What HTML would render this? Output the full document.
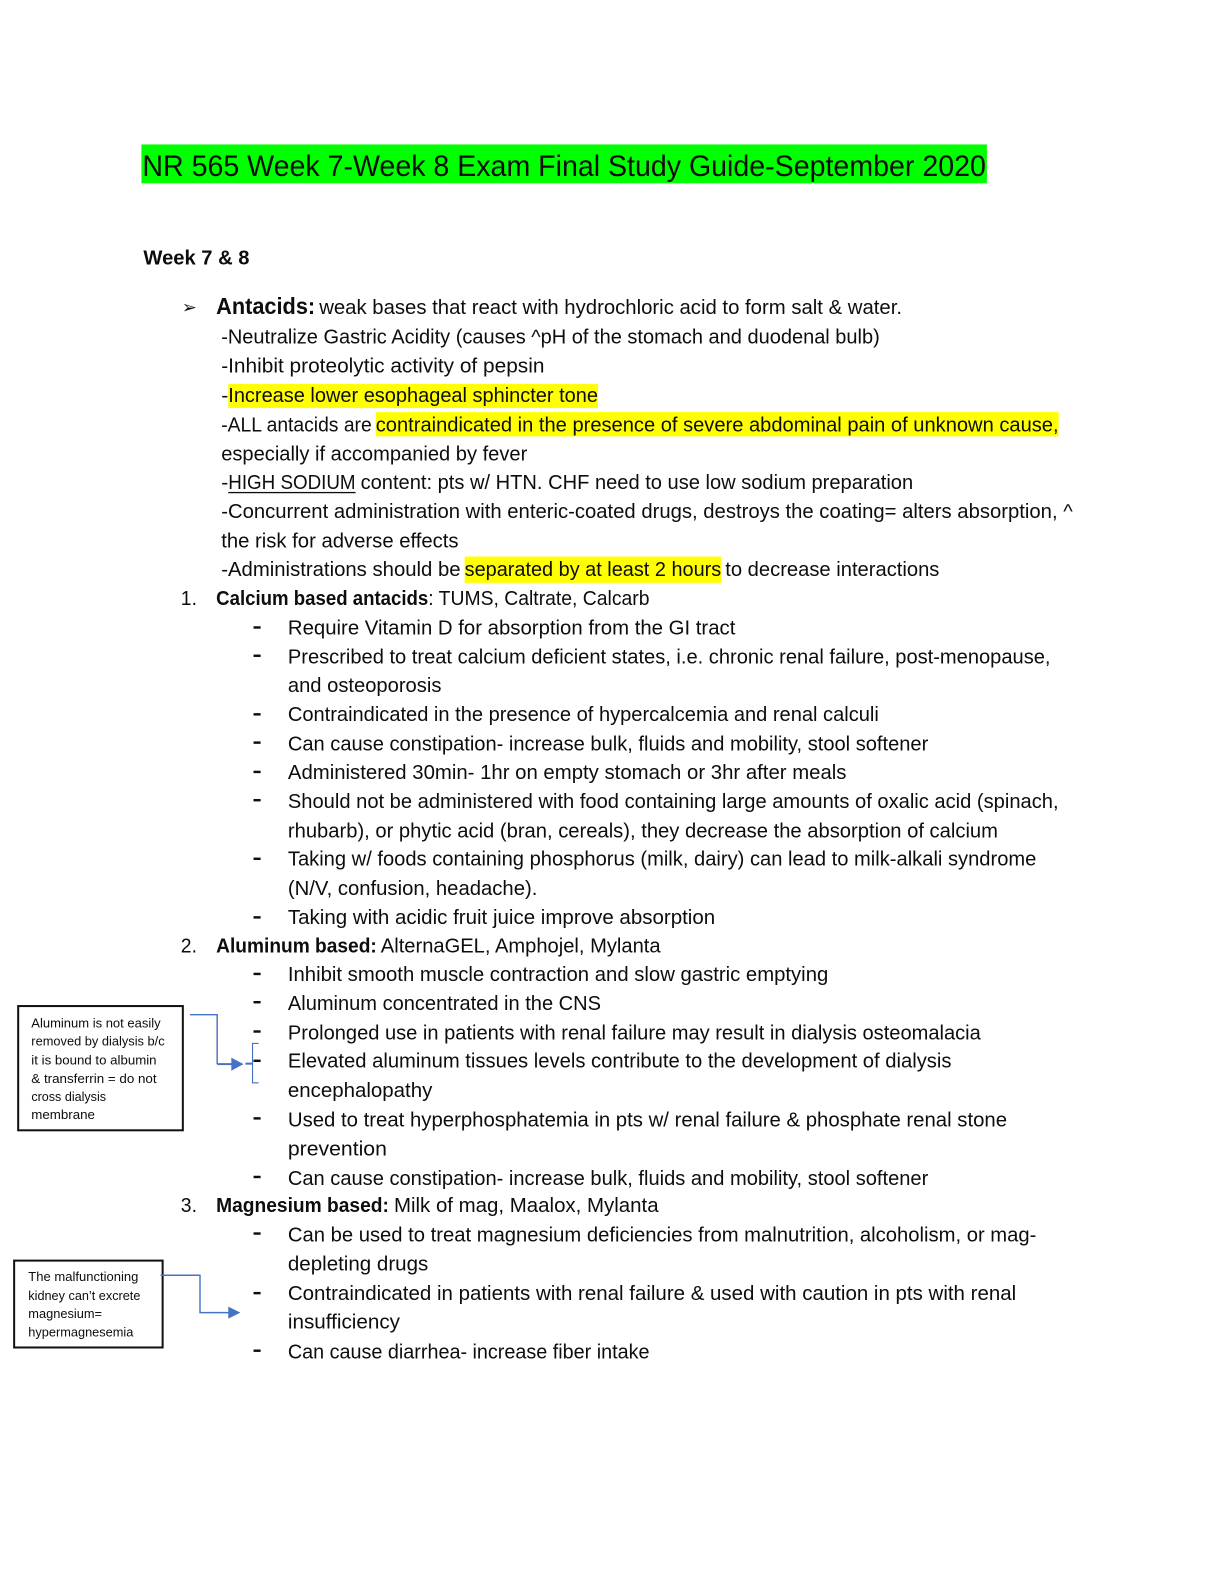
<!DOCTYPE html>
<html><head><meta charset="utf-8"><style>
html,body{margin:0;padding:0;background:#fff}
svg{display:block}
text{font-family:"Liberation Sans",sans-serif;fill:#0d0d0d;font-size:20.5px;white-space:pre}
.b{font-weight:bold}
.s{font-size:12.5px}
</style></head><body>
<svg width="1224" height="1584" viewBox="0 0 1211.76 1568.16" xmlns="http://www.w3.org/2000/svg">
<rect width="1224" height="1584" fill="#fff"/>
<rect x="140" y="143" width="837" height="38.5" fill="#00ff00"/>
<rect x="226" y="380" width="366" height="24" fill="#ffff00"/>
<rect x="372" y="408" width="676" height="24" fill="#ffff00"/>
<rect x="460" y="551" width="254" height="26" fill="#ffff00"/>
<g>
<text x="141" y="174" style="font-size:29px" textLength="835" lengthAdjust="spacingAndGlyphs">NR 565 Week 7-Week 8 Exam Final Study Guide-September 2020</text>
<text x="142" y="262" class="b" textLength="105" lengthAdjust="spacingAndGlyphs">Week 7 &amp; 8</text>
<text x="180" y="310" style="font-size:17px;font-family:'DejaVu Sans',sans-serif" textLength="15" lengthAdjust="spacingAndGlyphs">➢</text>
<text x="214" y="311" class="b" style="font-size:23px" textLength="98" lengthAdjust="spacingAndGlyphs">Antacids:</text>
<text x="316" y="311" textLength="577" lengthAdjust="spacingAndGlyphs">weak bases that react with hydrochloric acid to form salt &amp; water.</text>
<text x="219" y="340" textLength="652" lengthAdjust="spacingAndGlyphs">-Neutralize Gastric Acidity (causes ^pH of the stomach and duodenal bulb)</text>
<text x="219" y="369" textLength="320" lengthAdjust="spacingAndGlyphs">-Inhibit proteolytic activity of pepsin</text>
<text x="219" y="398" textLength="7" lengthAdjust="spacingAndGlyphs">-</text>
<text x="226" y="398" textLength="366" lengthAdjust="spacingAndGlyphs">Increase lower esophageal sphincter tone</text>
<text x="219" y="427" textLength="149" lengthAdjust="spacingAndGlyphs">-ALL antacids are</text>
<text x="372" y="427" textLength="676" lengthAdjust="spacingAndGlyphs">contraindicated in the presence of severe abdominal pain of unknown cause,</text>
<text x="219" y="456" textLength="303" lengthAdjust="spacingAndGlyphs">especially if accompanied by fever</text>
<text x="219" y="484" textLength="7" lengthAdjust="spacingAndGlyphs">-</text>
<text x="226" y="484" textLength="126" lengthAdjust="spacingAndGlyphs">HIGH SODIUM</text>
<rect x="226" y="487" width="126" height="1.3" fill="#0d0d0d"/>
<text x="357" y="484" textLength="547" lengthAdjust="spacingAndGlyphs">content: pts w/ HTN. CHF need to use low sodium preparation</text>
<text x="219" y="513" textLength="843" lengthAdjust="spacingAndGlyphs">-Concurrent administration with enteric-coated drugs, destroys the coating= alters absorption, ^</text>
<text x="219" y="542" textLength="235" lengthAdjust="spacingAndGlyphs">the risk for adverse effects</text>
<text x="219" y="570" textLength="237" lengthAdjust="spacingAndGlyphs">-Administrations should be</text>
<text x="460" y="570" textLength="254" lengthAdjust="spacingAndGlyphs">separated by at least 2 hours</text>
<text x="718" y="570" textLength="212" lengthAdjust="spacingAndGlyphs">to decrease interactions</text>

<text x="179" y="599" textLength="16" lengthAdjust="spacingAndGlyphs">1.</text>
<text x="214" y="599" class="b" textLength="210" lengthAdjust="spacingAndGlyphs">Calcium based antacids</text>
<text x="424" y="599" textLength="219" lengthAdjust="spacingAndGlyphs">: TUMS, Caltrate, Calcarb</text>
<text x="285" y="628" textLength="443" lengthAdjust="spacingAndGlyphs">Require Vitamin D for absorption from the GI tract</text>
<text x="285" y="657" textLength="755" lengthAdjust="spacingAndGlyphs">Prescribed to treat calcium deficient states, i.e. chronic renal failure, post-menopause,</text>
<text x="285" y="685" textLength="152" lengthAdjust="spacingAndGlyphs">and osteoporosis</text>
<text x="285" y="714" textLength="585" lengthAdjust="spacingAndGlyphs">Contraindicated in the presence of hypercalcemia and renal calculi</text>
<text x="285" y="743" textLength="634" lengthAdjust="spacingAndGlyphs">Can cause constipation- increase bulk, fluids and mobility, stool softener</text>
<text x="285" y="771" textLength="553" lengthAdjust="spacingAndGlyphs">Administered 30min- 1hr on empty stomach or 3hr after meals</text>
<text x="285" y="800" textLength="763" lengthAdjust="spacingAndGlyphs">Should not be administered with food containing large amounts of oxalic acid (spinach,</text>
<text x="285" y="829" textLength="703" lengthAdjust="spacingAndGlyphs">rhubarb), or phytic acid (bran, cereals), they decrease the absorption of calcium</text>
<text x="285" y="857" textLength="741" lengthAdjust="spacingAndGlyphs">Taking w/ foods containing phosphorus (milk, dairy) can lead to milk-alkali syndrome</text>
<text x="285" y="886" textLength="247" lengthAdjust="spacingAndGlyphs">(N/V, confusion, headache).</text>
<text x="285" y="915" textLength="423" lengthAdjust="spacingAndGlyphs">Taking with acidic fruit juice improve absorption</text>

<text x="179" y="943" textLength="16" lengthAdjust="spacingAndGlyphs">2.</text>
<text x="214" y="943" class="b" textLength="159" lengthAdjust="spacingAndGlyphs">Aluminum based:</text>
<text x="377" y="943" textLength="277" lengthAdjust="spacingAndGlyphs">AlternaGEL, Amphojel, Mylanta</text>
<text x="285" y="971" textLength="535" lengthAdjust="spacingAndGlyphs">Inhibit smooth muscle contraction and slow gastric emptying</text>
<text x="285" y="1000" textLength="310" lengthAdjust="spacingAndGlyphs">Aluminum concentrated in the CNS</text>
<text x="285" y="1029" textLength="686" lengthAdjust="spacingAndGlyphs">Prolonged use in patients with renal failure may result in dialysis osteomalacia</text>
<text x="285" y="1057" textLength="657" lengthAdjust="spacingAndGlyphs">Elevated aluminum tissues levels contribute to the development of dialysis</text>
<text x="285" y="1086" textLength="143" lengthAdjust="spacingAndGlyphs">encephalopathy</text>
<text x="285" y="1115" textLength="712" lengthAdjust="spacingAndGlyphs">Used to treat hyperphosphatemia in pts w/ renal failure &amp; phosphate renal stone</text>
<text x="285" y="1144" textLength="98" lengthAdjust="spacingAndGlyphs">prevention</text>
<text x="285" y="1173" textLength="634" lengthAdjust="spacingAndGlyphs">Can cause constipation- increase bulk, fluids and mobility, stool softener</text>

<text x="179" y="1200" textLength="16" lengthAdjust="spacingAndGlyphs">3.</text>
<text x="214" y="1200" class="b" textLength="171" lengthAdjust="spacingAndGlyphs">Magnesium based:</text>
<text x="390" y="1200" textLength="262" lengthAdjust="spacingAndGlyphs">Milk of mag, Maalox, Mylanta</text>
<text x="285" y="1229" textLength="741" lengthAdjust="spacingAndGlyphs">Can be used to treat magnesium deficiencies from malnutrition, alcoholism, or mag-</text>
<text x="285" y="1258" textLength="139" lengthAdjust="spacingAndGlyphs">depleting drugs</text>
<text x="285" y="1287" textLength="721" lengthAdjust="spacingAndGlyphs">Contraindicated in patients with renal failure &amp; used with caution in pts with renal</text>
<text x="285" y="1315" textLength="111" lengthAdjust="spacingAndGlyphs">insufficiency</text>
<text x="285" y="1345" textLength="358" lengthAdjust="spacingAndGlyphs">Can cause diarrhea- increase fiber intake</text>

<text x="31" y="1017" class="s" textLength="128" lengthAdjust="spacingAndGlyphs">Aluminum is not easily</text>
<text x="31" y="1035" class="s" textLength="132" lengthAdjust="spacingAndGlyphs">removed by dialysis b/c</text>
<text x="31" y="1054" class="s" textLength="124" lengthAdjust="spacingAndGlyphs">it is bound to albumin</text>
<text x="31" y="1072" class="s" textLength="124" lengthAdjust="spacingAndGlyphs">&amp; transferrin = do not</text>
<text x="31" y="1090" class="s" textLength="74" lengthAdjust="spacingAndGlyphs">cross dialysis</text>
<text x="31" y="1108" class="s" textLength="63" lengthAdjust="spacingAndGlyphs">membrane</text>
<text x="28" y="1268" class="s" textLength="109" lengthAdjust="spacingAndGlyphs">The malfunctioning</text>
<text x="28" y="1287" class="s" textLength="111" lengthAdjust="spacingAndGlyphs">kidney can’t excrete</text>
<text x="28" y="1305" class="s" textLength="73" lengthAdjust="spacingAndGlyphs">magnesium=</text>
<text x="28" y="1323" class="s" textLength="104" lengthAdjust="spacingAndGlyphs">hypermagnesemia</text>
</g>

<g fill="#0d0d0d">
<rect x="251" y="620" width="7" height="2.4"/>
<rect x="251" y="648" width="7" height="2.4"/>
<rect x="251" y="706" width="7" height="2.4"/>
<rect x="251" y="734" width="7" height="2.4"/>
<rect x="251" y="763" width="7" height="2.4"/>
<rect x="251" y="791" width="7" height="2.4"/>
<rect x="251" y="849" width="7" height="2.4"/>
<rect x="251" y="907" width="7" height="2.4"/>
<rect x="251" y="963" width="7" height="2.4"/>
<rect x="251" y="991" width="7" height="2.4"/>
<rect x="251" y="1020" width="7" height="2.4"/>
<rect x="251" y="1049" width="7" height="2.4"/>
<rect x="251" y="1106" width="7" height="2.4"/>
<rect x="251" y="1164" width="7" height="2.4"/>
<rect x="251" y="1220" width="7" height="2.4"/>
<rect x="251" y="1279" width="7" height="2.4"/>
<rect x="251" y="1336" width="7" height="2.4"/>
</g>

<rect x="18" y="996" width="163" height="123" fill="none" stroke="#111" stroke-width="2"/>
<rect x="14" y="1248" width="147" height="86" fill="none" stroke="#111" stroke-width="2"/>

<g fill="none" stroke="#4472c4" stroke-width="1.4">
<path d="M188 1004.5H215V1053.5"/>
<path d="M215 1053.5H232" stroke-width="2"/>
<path d="M243 1053H250" stroke-width="2"/>
<path d="M256 1033H250V1072H256" stroke-width="1.1"/>
<path d="M159 1262.5H198V1299.5H228"/>
</g>
<g fill="#4472c4">
<path d="M229 1047L241 1053.5L229 1060Z"/>
<path d="M226 1293.5L238 1299.5L226 1305.5Z"/>
</g>
</svg>
</body></html>
